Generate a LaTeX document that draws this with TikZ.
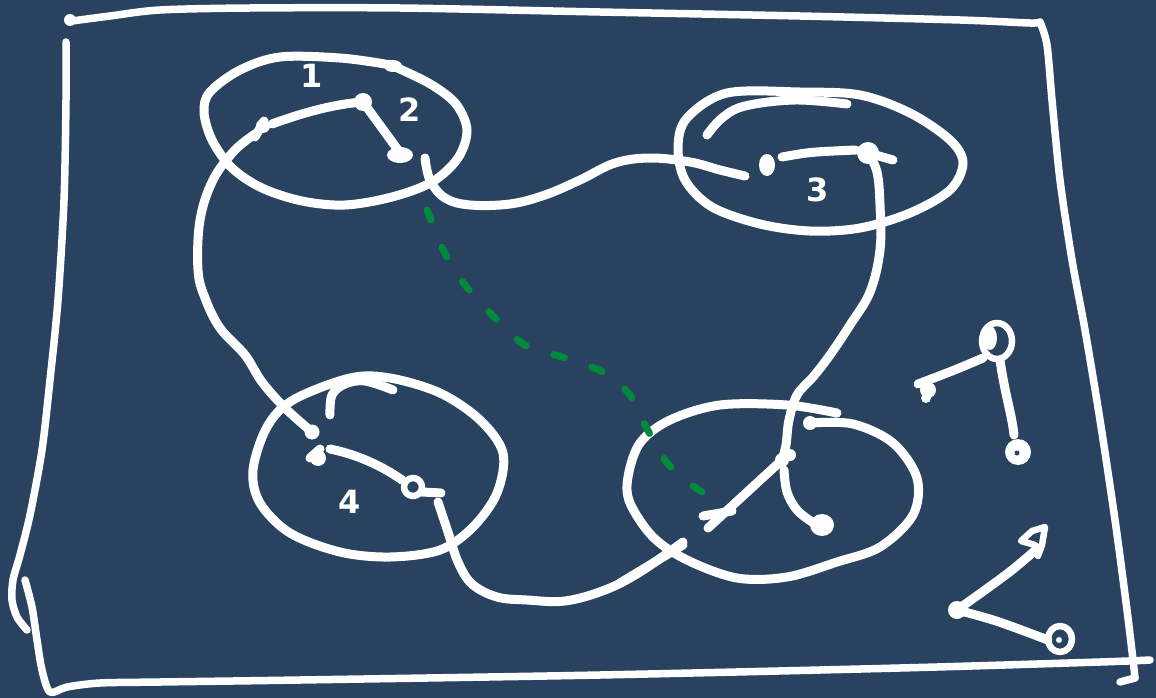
\documentclass[tikz,border=0pt]{standalone}
\usepackage{fontspec}
\setmainfont{DejaVu Sans}
\definecolor{bg}{RGB}{40,66,96}
\definecolor{gr}{RGB}{0,138,62}
\begin{document}
\begin{tikzpicture}[x=1pt,y=-1pt,
  ink/.style={draw=white,line width=9pt,line cap=round,line join=round},
  frame/.style={ink,line width=7.5pt},
  fine/.style={ink,line width=6.5pt},
  lbl/.style={text=white,font=\bfseries\fontsize{32}{32}\selectfont,inner sep=0pt},
  greendash/.style={draw=gr,line width=7pt,line cap=round,dash pattern=on 11pt off 29pt}]
\fill[bg] (0,0) rectangle (1156,698);
\useasboundingbox (0,0) rectangle (1156,698);

% ---------- frame ----------
\fill[white] (70,20) circle (6);
\draw[frame] plot[smooth,tension=0.5] coordinates {(72,21)(110,16)(160,10)(250,8)(400,8)(600,12)(800,16)(960,20)(1030,23)(1040,22)};
\draw[frame] plot[smooth,tension=0.5] coordinates {(1040,22)(1047,45)(1052,100)(1060,180)(1072,260)(1085,330)(1100,420)(1115,520)(1127,610)(1133,660)(1135,678)};
\draw[frame] (1135,678) -- (1120,682);
\draw[frame] plot[smooth,tension=0.5] coordinates {(66,42)(66,100)(64,200)(58,300)(50,380)(42,450)(30,515)(20,555)(13,580)(12,600)(17,617)(27,630)};
\draw[frame] plot[smooth,tension=0.5] coordinates {(25,580)(32,607)(37,640)(42,670)(50,692)(67,687)(100,683)(160,682)(300,680)(600,675)(900,668)(1100,662)(1150,660)};

% ---------- cluster 1 ----------
\draw[ink] plot[smooth,tension=0.55] coordinates {(385,64)(340,58)(280,57)(240,70)(210,92)(204,112)(212,140)(232,168)(262,188)(302,201)(345,205)(392,197)(432,182)(458,158)(467,130)(456,104)(432,85)(402,70)(388,64)};
\fill[white] (393,66) ellipse (9 and 6);
\coordinate (a1) at (263,126);
\coordinate (a2) at (363,102);
\coordinate (a3) at (400,155);
\draw[ink] (255,137) -- (264,121);
\fill[white] (a1) circle (7);
\draw[ink] (272,124) .. controls (305,112) and (335,104) .. (a2);
\fill[white] (a2) circle (9);
\draw[ink] (a2) -- (398,150);
\fill[white] (a3) ellipse (13 and 8);
\node[lbl] (l1) at (312,76) {1};
\node[lbl] (l2) at (410,110) {2};

% ---------- cluster 3 ----------
\draw[ink] plot[smooth cycle,tension=0.55] coordinates {(727,93)(800,92)(860,95)(910,113)(950,140)(963,163)(950,190)(910,213)(860,228)(810,231)(760,224)(712,207)(685,180)(678,147)(687,118)};
\draw[ink] plot[smooth,tension=0.6] coordinates {(707,135)(722,118)(745,106)(795,100)(847,104)};
\coordinate (c1) at (767,165);
\coordinate (c2) at (868,153);
\fill[white] (c1) ellipse (8 and 11);
\draw[ink] (782,157) .. controls (810,152) .. (856,150);
\fill[white] (c2) circle (11);
\draw[ink] (c2) -- (893,160);
\node[lbl] (l3) at (818,190) {3};

% ---------- cluster 4 ----------
\draw[ink] plot[smooth cycle,tension=0.55] coordinates {(350,378)(390,378)(440,393)(480,420)(503,453)(497,493)(473,527)(440,550)(390,557)(340,552)(290,533)(260,503)(253,470)(267,427)(293,400)};
\draw[ink] plot[smooth,tension=0.6] coordinates {(330,415)(332,395)(345,384)(365,381)(393,390)};
\coordinate (d1) at (312,432);
\coordinate (d2) at (318,458);
\coordinate (d3) at (413,487);
\fill[white] (d1) circle (7.5);
\fill[white] (d2) circle (8);
\draw[ink] (310,458) -- (320,449);
\draw[ink] (330,449) .. controls (360,455) and (385,468) .. (402,480);
\draw[fine] (d3) circle (9);
\draw[ink] (422,492) -- (441,493);
\node[lbl] (l4) at (350,502) {4};

% ---------- cluster 5 ----------
\draw[ink] plot[smooth,tension=0.55] coordinates {(810,423)(853,424)(893,443)(917,478)(913,515)(880,547)(837,562)(787,577)(737,578)(687,560)(653,537)(630,503)(628,477)(640,443)(670,420)(720,405)(787,405)(837,413)};
\fill[white] (810,423) circle (7);
\coordinate (e1) at (782,460);
\coordinate (e2) at (708,528);
\coordinate (e3) at (822,525);
\fill[white] (e1) circle (7);
\fill[white] (790,455) circle (6);
\draw[ink] (e1) -- (e2);
\draw[ink] (703,516) -- (732,511);
\draw[ink] plot[smooth,tension=0.6] coordinates {(784,470)(787,492)(797,510)(812,522)};
\fill[white] (e3) ellipse (12 and 11);

% ---------- connectors ----------
\draw[ink] plot[smooth,tension=0.6] coordinates {(258,132)(235,150)(213,180)(200,220)(198,270)(205,298)(220,328)(245,355)(262,382)(285,408)(d1)};
\draw[ink] plot[smooth,tension=0.6] coordinates {(425,158)(430,180)(445,198)(470,205)(510,204)(545,195)(580,180)(615,163)(650,158)(690,162)(720,170)(745,176)};
\draw[ink] plot[smooth,tension=0.6] coordinates {(c2)(877,172)(880,205)(880,250)(870,292)(850,325)(830,355)(813,377)(797,395)(789,420)(786,445)(e1)};
\draw[ink] plot[smooth,tension=0.6] coordinates {(438,502)(448,532)(458,562)(472,584)(497,597)(527,600)(565,601)(605,590)(640,572)(683,542)};
\draw[ink] (683,545) -- (620,583);
\draw[greendash] plot[smooth,tension=0.5] coordinates {(427,210)(437,235)(447,257)(465,285)(495,318)(525,345)(565,358)(605,373)(630,395)(645,425)(665,460)(685,480)(702,492)};

% ---------- right scribbles ----------
\coordinate (f1) at (997,341);
\coordinate (f2) at (928,390);
\coordinate (f3) at (1018,452);
\draw[fine] (f1) ellipse (15 and 18);
\fill[white] (990,338) ellipse (7 and 12);
\draw[ink] (983,358) .. controls (955,370) .. (918,384);
\fill[white] (f2) circle (8);
\fill[white] (926,398) circle (5);
\draw[ink] (1000,360) .. controls (1005,395) and (1012,415) .. (1014,435);
\fill[white] (f3) circle (13);
\fill[bg] (1017,453) circle (2.5);

\coordinate (g1) at (1038,548);
\coordinate (g2) at (957,610);
\coordinate (g3) at (1060,639);
\draw[fine] (1035,545) -- (1021,541) -- (1032,531) -- (1045,527) -- (1042,545) -- (1038,556);
\draw[ink] plot[smooth,tension=0.6] coordinates {(g1)(1012,570)(985,590)(g2)};
\fill[white] (g2) circle (9);
\draw[ink] (g2) .. controls (995,620) .. (1048,640);
\draw[fine] (g3) ellipse (12 and 13);
\fill[white] (1059,640) circle (3);
\end{tikzpicture}
\end{document}
